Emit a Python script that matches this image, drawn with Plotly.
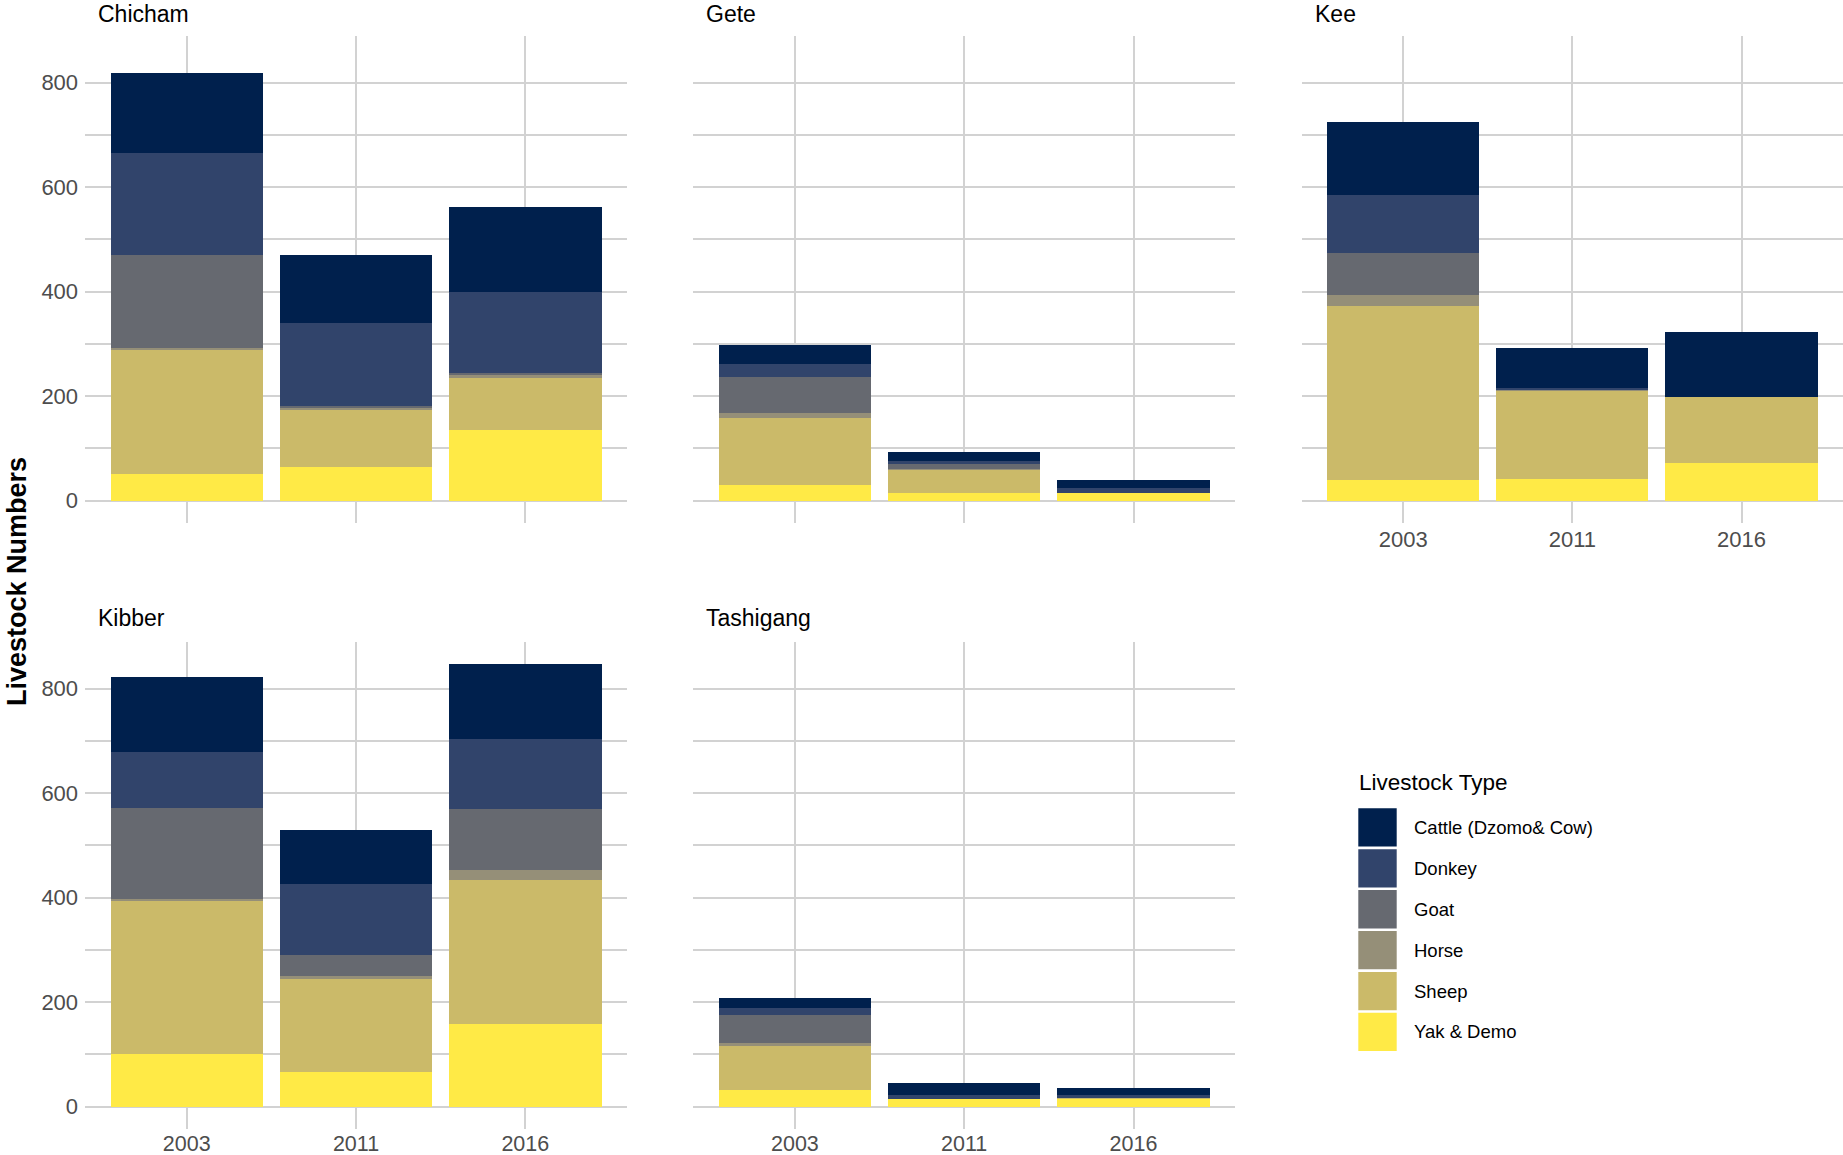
import plotly.graph_objects as go

# ---------------- data ----------------
villages = ["Chicham", "Gete", "Kee", "Kibber", "Tashigang"]
years = ["2003", "2011", "2016"]
livestock_types = ["Cattle (Dzomo& Cow)", "Donkey", "Goat", "Horse", "Sheep", "Yak & Demo"]

# values listed village by village (Chicham, Gete, Kee, Kibber, Tashigang), each for 2003, 2011, 2016
cattle = [153, 131, 164,   37, 18, 16,   139, 78, 123,   145, 104, 143,   20, 24, 14]
donkey = [195, 159, 154,   24, 5, 9,     112, 2, 0,      107, 136, 134,   12, 7, 5]
goat   = [178, 3, 5,       70, 10, 0,    80, 1, 0,       174, 40, 117,    55, 0, 0]
horse  = [4, 4, 5,         9, 1, 0,      21, 2, 0,       2, 6, 20,        5, 0, 0]
sheep  = [237, 109, 100,   128, 45, 0,   334, 168, 127,  295, 177, 274,   85, 0, 1]
yak    = [51, 65, 135,     30, 15, 15,   39, 42, 72,     100, 67, 159,    31, 15, 16]

colors = ["#00204D", "#31446B", "#666970", "#958F78", "#CBBA69", "#FFEA46"]

# ---------------- layout geometry (pixels) ----------------
W, H = 1843, 1155
col_x = [(85.1, 626.9), (693.3, 1235.1), (1301.7, 1843.0)]
row_y = [(36.0, 522.8), (642.0, 1128.8)]
panel_pos = [(0, 0), (0, 1), (0, 2), (1, 0), (1, 1)]
show_x_labels = [False, False, True, True, True]
show_y_labels = [True, False, False, True, False]

FONT = "Liberation Sans Narrow, Arial Narrow, Liberation Sans, Arial, sans-serif"
GRID = "#D2D2D2"
TICKCOL = "#4D4D4D"

series = [cattle, donkey, goat, horse, sheep, yak]

fig = go.Figure()

# bottom of stack first: Yak, Sheep, Horse, Goat, Donkey, Cattle
for vi, village in enumerate(villages):
    suffix = "" if vi == 0 else str(vi + 1)
    for si in reversed(range(len(livestock_types))):
        vals = series[si][vi * 3:(vi + 1) * 3]
        fig.add_trace(go.Bar(
            x=years, y=vals, name=livestock_types[si],
            marker=dict(color=colors[si], line=dict(width=0)),
            width=0.9, showlegend=False,
            xaxis="x" + suffix, yaxis="y" + suffix,
            hovertemplate=village + " %{x}<br>" + livestock_types[si] + ": %{y}<extra></extra>",
        ))

layout = dict(
    width=W, height=H,
    margin=dict(l=0, r=0, t=0, b=0, autoexpand=False),
    paper_bgcolor="white", plot_bgcolor="white",
    barmode="stack", bargap=0.1,
    font=dict(family=FONT, size=22, color=TICKCOL),
    showlegend=False,
)

annotations = []
shapes = []
for vi, village in enumerate(villages):
    r, c = panel_pos[vi]
    x0, x1 = col_x[c]
    y0, y1 = row_y[r]
    suffix = "" if vi == 0 else str(vi + 1)
    layout["xaxis" + suffix] = dict(
        domain=[x0 / W, min(x1 / W, 1.0)],
        anchor="y" + suffix,
        type="category", categoryorder="array", categoryarray=years,
        range=[-0.6, 2.6],
        showgrid=True, gridcolor=GRID, gridwidth=1.8,
        zeroline=False, showline=False, ticks="",
        showticklabels=show_x_labels[vi],
        tickfont=dict(family=FONT, size=22 if r == 0 else 21.5, color=TICKCOL),
        ticklabelstandoff=1 if r == 0 else 0,
        automargin=False,
        fixedrange=True,
    )
    layout["yaxis" + suffix] = dict(
        domain=[1 - y1 / H, 1 - y0 / H],
        anchor="x" + suffix,
        range=[-42.35, 889.35],
        tickvals=[0, 200, 400, 600, 800],
        showgrid=True, gridcolor=GRID, gridwidth=1.8,
        minor=dict(dtick=100, tick0=0, showgrid=True, gridcolor=GRID, gridwidth=1.8),
        zeroline=False, showline=False, ticks="",
        showticklabels=show_y_labels[vi],
        tickfont=dict(family=FONT, size=22, color=TICKCOL),
        ticklabelstandoff=6,
        automargin=False,
        fixedrange=True,
    )
    # facet strip title
    title_center = y0 - 24 if r == 1 else y0 - 22
    annotations.append(dict(
        text=village, xref="paper", yref="paper",
        x=(x0 + 11) / W, y=1 - title_center / H,
        xanchor="left", yanchor="middle", showarrow=False,
        font=dict(family=FONT, size=23, color="black"),
    ))

# y-axis title
annotations.append(dict(
    text="<b>Livestock Numbers</b>", xref="paper", yref="paper",
    x=0, y=1 - 582 / H, xanchor="left", yanchor="middle",
    textangle=-90, showarrow=False,
    font=dict(family=FONT, size=27, color="black"),
))

# legend (drawn manually to match large square keys)
annotations.append(dict(
    text="Livestock Type", xref="paper", yref="paper",
    x=1357 / W, y=1 - 782 / H, xanchor="left", yanchor="middle",
    showarrow=False, font=dict(family=FONT, size=22.5, color="black"),
))
key_top0, key_pitch, key_h = 808.3, 40.9, 38.3
key_x0, key_x1 = 1358.3, 1396.7
for k, name in enumerate(livestock_types):
    top = key_top0 + k * key_pitch
    shapes.append(dict(
        type="rect", xref="paper", yref="paper",
        x0=key_x0 / W, x1=key_x1 / W,
        y0=1 - (top + key_h) / H, y1=1 - top / H,
        fillcolor=colors[k], line=dict(width=0),
    ))
    annotations.append(dict(
        text=name, xref="paper", yref="paper",
        x=1411.7 / W, y=1 - (top + key_h / 2) / H,
        xanchor="left", yanchor="middle", showarrow=False,
        font=dict(family=FONT, size=18.5, color="black"),
    ))

layout["annotations"] = annotations
layout["shapes"] = shapes
fig.update_layout(**layout)

fig.write_html(
    "out.html",
    config={"displayModeBar": False},
    post_script="document.body.style.margin='0';document.body.style.overflow='hidden';",
)
